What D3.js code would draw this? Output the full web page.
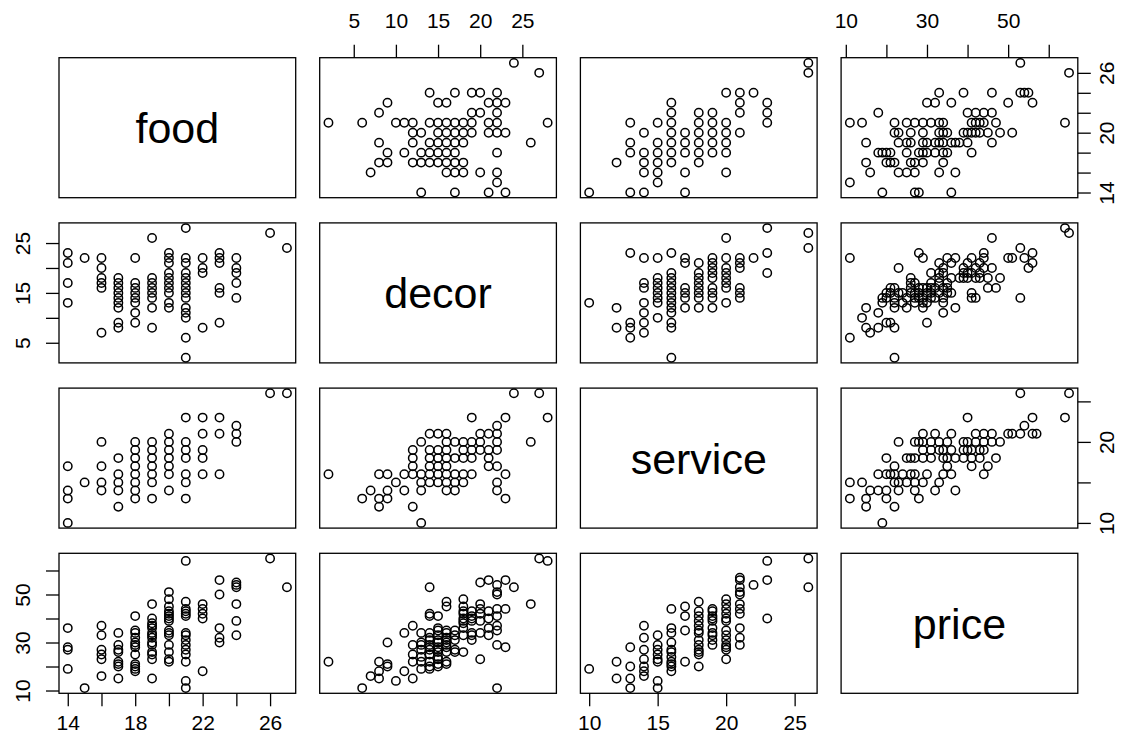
<!DOCTYPE html>
<html>
<head>
<meta charset="UTF-8">
<title>pairs</title>
<script src="https://d3js.org/d3.v7.min.js"></script>
<style>
  body { margin: 0; background: #fff; }
  svg text { font-family: "Liberation Sans", Arial, sans-serif; fill: #000; }
</style>
</head>
<body>
<svg id="pairs" width="1129" height="744"></svg>
<script>
var vars = ["food", "decor", "service", "price"];

// tick positions and which ticks get a label (R drops overlapping labels)
var foodTicks = [14, 16, 18, 20, 22, 24, 26];
var decorTicks = [5, 10, 15, 20, 25];
var serviceTicks = [10, 15, 20, 25];
var priceTicks = [10, 20, 30, 40, 50, 60];
var foodBottomLabels = [14, 18, 22, 26];
var foodRightLabels = [14, 20, 26];
var decorTopLabels = [5, 10, 15, 20, 25];
var decorLeftLabels = [5, 15, 25];
var serviceBottomLabels = [10, 15, 20, 25];
var serviceRightLabels = [10, 20];
var priceTopLabels = [10, 30, 50];
var priceLeftLabels = [10, 30, 50];

// [food, [decor...]]
var foodDecor = [
    [27, [24]], [26, [27]], [24, [14, 17, 19, 20, 22]], [23, [9, 15, 16, 21, 22, 23]],
    [22, [8, 19, 20, 22]], [21, [2, 6, 10, 11, 12, 14, 15, 16, 17, 18, 19, 21, 22, 28]],
    [20, [12, 13, 15, 16, 17, 18, 19, 21, 22, 23]], [19, [8, 12, 14, 15, 16, 17, 18, 26]],
    [18, [9, 11, 13, 14, 15, 16, 17, 22]], [17, [8, 9, 12, 13, 14, 15, 16, 17, 18]],
    [16, [7, 16, 17, 18, 20, 22]], [15, [22]], [14, [13, 17, 21, 23]]
];
// [food, [service...]]
var foodService = [
    [27, [26]], [26, [26]], [24, [20, 21, 22]], [23, [16, 21, 23]], [22, [16, 18, 19, 21, 23]],
    [21, [13, 15, 16, 18, 19, 20, 23]], [20, [14, 16, 17, 18, 19, 20, 21]],
    [19, [13, 15, 16, 17, 18, 19, 20]], [18, [13, 14, 15, 16, 17, 18, 19, 20]],
    [17, [12, 14, 15, 16, 18]], [16, [14, 15, 17, 20]], [15, [15]], [14, [10, 13, 14, 17]]
];
// [food, [price...]]
var foodPrice = [
    [27, [53]], [26, [65]], [24, [33, 39, 46, 53, 54, 55]], [23, [30, 32, 36, 50, 56]],
    [22, [18, 40, 42, 44, 46]],
    [21, [11, 14, 22, 25, 27, 29, 31, 33, 34, 41, 42, 43, 44, 47, 64]],
    [20, [22, 23, 26, 29, 33, 34, 35, 39, 40, 41, 42, 43, 45, 48, 51]],
    [19, [15, 23, 25, 26, 29, 30, 32, 33, 34, 36, 37, 38, 40, 46]],
    [18, [18, 19, 20, 21, 25, 28, 29, 30, 32, 34, 35, 41]],
    [17, [15, 20, 21, 22, 26, 27, 29, 34]], [16, [16, 23, 25, 27, 33, 37]],
    [15, [11]], [14, [19, 27, 28, 36]]
];
// [service, [decor...]]
var serviceDecor = [
    [10, [13]], [12, [12, 8]], [13, [23, 9, 8, 6]], [14, [22, 17, 16, 13, 11, 9, 7]],
    [15, [22, 18, 17, 16, 15, 14, 13, 10]],
    [16, [23, 19, 18, 17, 16, 15, 14, 13, 12, 11, 9, 8, 2]],
    [17, [22, 21, 16, 15, 14, 12]], [18, [21, 19, 18, 17, 16, 15, 14, 12]],
    [19, [22, 21, 20, 19, 18, 16, 15, 14, 12]], [20, [26, 22, 20, 19, 18, 17, 16, 13]],
    [21, [22, 21, 20, 16, 15, 14]], [22, [22]], [23, [28, 23, 19]], [26, [27, 24]]
];
// [decor, [price...]]
var decorPrice = [
    [28, [64]], [27, [65]], [26, [46]], [24, [53]], [23, [28, 44, 56]],
    [22, [11, 29, 35, 37, 41, 44, 50, 51, 54]], [21, [33, 36, 40, 43, 56]],
    [20, [23, 34, 39, 42, 44, 46, 55]], [19, [31, 33, 34, 39, 40, 41, 43]],
    [18, [26, 33, 36, 38, 39, 40, 42, 43, 45, 48]], [17, [26, 27, 31, 33, 35]],
    [16, [21, 22, 26, 28, 29, 30, 31, 32, 34, 35, 45, 47]],
    [15, [20, 21, 23, 24, 26, 27, 28, 30, 31, 33, 35, 36, 41]],
    [14, [19, 20, 22, 25, 27, 28, 29, 31, 32, 34, 41, 42, 53]],
    [13, [19, 22, 24, 27, 29, 30, 34]], [12, [15, 22, 25, 29, 37]], [11, [18, 34]],
    [10, [14]], [9, [20, 21, 30]], [8, [15, 18, 22]], [7, [16]], [6, [11]], [2, [22]]
];
// [service, [price...]]
var servicePrice = [
    [26, [53, 65]], [23, [40, 56, 64]], [22, [54]],
    [21, [29, 32, 36, 42, 44, 46, 50, 51, 53, 56, 57]],
    [20, [23, 27, 28, 29, 31, 33, 35, 39, 40, 42, 44, 46, 48]],
    [19, [29, 31, 33, 34, 36, 39, 40, 41, 43, 44]],
    [18, [20, 25, 26, 27, 29, 31, 34, 35, 37, 39, 41, 43, 47]],
    [17, [22, 35, 41, 45]], [16, [18, 20, 21, 22, 24, 26, 27, 30, 34, 36, 44]],
    [15, [11, 14, 22, 23, 25, 27, 29, 33]], [14, [16, 18, 20, 23, 27, 32, 37]],
    [13, [11, 15, 20, 28]], [12, [15, 22]], [10, [19]]
];

function expand(groups) {
    var out = [];
    groups.forEach(function (g) {
        g[1].forEach(function (v) { out.push([g[0], v]); });
    });
    return out;
}

var pairSets = [
    {a: "food", b: "decor", pts: expand(foodDecor)},
    {a: "food", b: "service", pts: expand(foodService)},
    {a: "food", b: "price", pts: expand(foodPrice)},
    {a: "service", b: "decor", pts: expand(serviceDecor)},
    {a: "decor", b: "price", pts: expand(decorPrice)},
    {a: "service", b: "price", pts: expand(servicePrice)}
];

function pointsFor(xv, yv) {
    for (var i = 0; i < pairSets.length; i++) {
        var p = pairSets[i];
        if (p.a == xv && p.b == yv) return p.pts;
        if (p.a == yv && p.b == xv) return p.pts.map(function (d) { return [d[1], d[0]]; });
    }
    return [];
}

// data range of each variable, padded 4% like R
function domainOf(v) {
    var vals = [];
    pairSets.forEach(function (p) {
        p.pts.forEach(function (d) {
            if (p.a == v) vals.push(d[0]);
            if (p.b == v) vals.push(d[1]);
        });
    });
    var e = d3.extent(vals), r = e[1] - e[0];
    return [e[0] - 0.04 * r, e[1] + 0.04 * r];
}

var panelLeft = 59, panelTop = 57.7, stepX = 260.7, stepY = 165.2, w = 236.7, h = 140;
var colX = vars.map(function (v, i) { return panelLeft + i * stepX; });
var rowY = vars.map(function (v, i) { return panelTop + i * stepY; });

var xs = vars.map(function (v, i) {
    return d3.scaleLinear().domain(domainOf(v)).range([colX[i], colX[i] + w]);
});
var ys = vars.map(function (v, i) {
    return d3.scaleLinear().domain(domainOf(v)).range([rowY[i] + h, rowY[i]]);
});

var svg = d3.select("svg#pairs");

for (var r = 0; r < 4; r++) {
    for (var c = 0; c < 4; c++) {
        var g = svg.append("g");
        if (r == c) {
            g.append("text")
                .attr("x", colX[c] + w / 2)
                .attr("y", rowY[r] + h / 2 + 15.5)
                .attr("text-anchor", "middle")
                .style("font-size", "43px")
                .text(vars[r]);
        } else {
            var xScale = xs[c], yScale = ys[r];
            g.selectAll("circle").data(pointsFor(vars[c], vars[r]))
                .enter().append("circle")
                .attr("cx", function (d) { return xScale(d[0]); })
                .attr("cy", function (d) { return yScale(d[1]); })
                .attr("r", 4.2)
                .attr("fill", "none")
                .attr("stroke", "#000")
                .attr("stroke-width", 1.5);
        }
        g.append("rect")
            .attr("x", colX[c]).attr("y", rowY[r])
            .attr("width", w).attr("height", h)
            .attr("fill", "none").attr("stroke", "#000").attr("stroke-width", 1.3);
    }
}

function fmt(labels) {
    return function (d) { return labels.indexOf(d) >= 0 ? d : ""; };
}

function styleAxis(ax) {
    ax.select(".domain").remove();
    ax.attr("font-family", null).attr("font-size", null);
    ax.selectAll("line").attr("stroke-width", 1.3);
    ax.selectAll("text").style("font-size", "21px");
}

// R puts top/left labels a little further out than bottom/right ones
var tickLen = 13, farOff = 37, nearOff = 29;

// top: decor, price
[[1, decorTicks, decorTopLabels], [3, priceTicks, priceTopLabels]].forEach(function (a) {
    svg.append("g").attr("transform", "translate(0," + rowY[0] + ")")
        .call(d3.axisTop(xs[a[0]]).tickValues(a[1]).tickSize(tickLen).tickPadding(farOff - tickLen - 7.5).tickFormat(fmt(a[2])))
        .call(styleAxis);
});
// bottom: food, service
[[0, foodTicks, foodBottomLabels], [2, serviceTicks, serviceBottomLabels]].forEach(function (a) {
    svg.append("g").attr("transform", "translate(0," + (rowY[3] + h) + ")")
        .call(d3.axisBottom(xs[a[0]]).tickValues(a[1]).tickSize(tickLen).tickPadding(nearOff - tickLen - 7.5).tickFormat(fmt(a[2])))
        .call(styleAxis);
});
// left: decor, price (labels parallel to the axis)
[[1, decorTicks, decorLeftLabels], [3, priceTicks, priceLeftLabels]].forEach(function (a) {
    var ax = svg.append("g").attr("transform", "translate(" + colX[0] + ",0)")
        .call(d3.axisLeft(ys[a[0]]).tickValues(a[1]).tickSize(tickLen).tickFormat(fmt(a[2])))
        .call(styleAxis);
    ax.selectAll("text").attr("x", null).attr("dy", "0.36em")
        .attr("text-anchor", "middle")
        .attr("transform", "translate(" + (-farOff) + ",0) rotate(-90)");
});
// right: food, service
[[0, foodTicks, foodRightLabels], [2, serviceTicks, serviceRightLabels]].forEach(function (a) {
    var ax = svg.append("g").attr("transform", "translate(" + (colX[3] + w) + ",0)")
        .call(d3.axisRight(ys[a[0]]).tickValues(a[1]).tickSize(tickLen).tickFormat(fmt(a[2])))
        .call(styleAxis);
    ax.selectAll("text").attr("x", null).attr("dy", "0.36em")
        .attr("text-anchor", "middle")
        .attr("transform", "translate(" + nearOff + ",0) rotate(-90)");
});
</script>
</body>
</html>
